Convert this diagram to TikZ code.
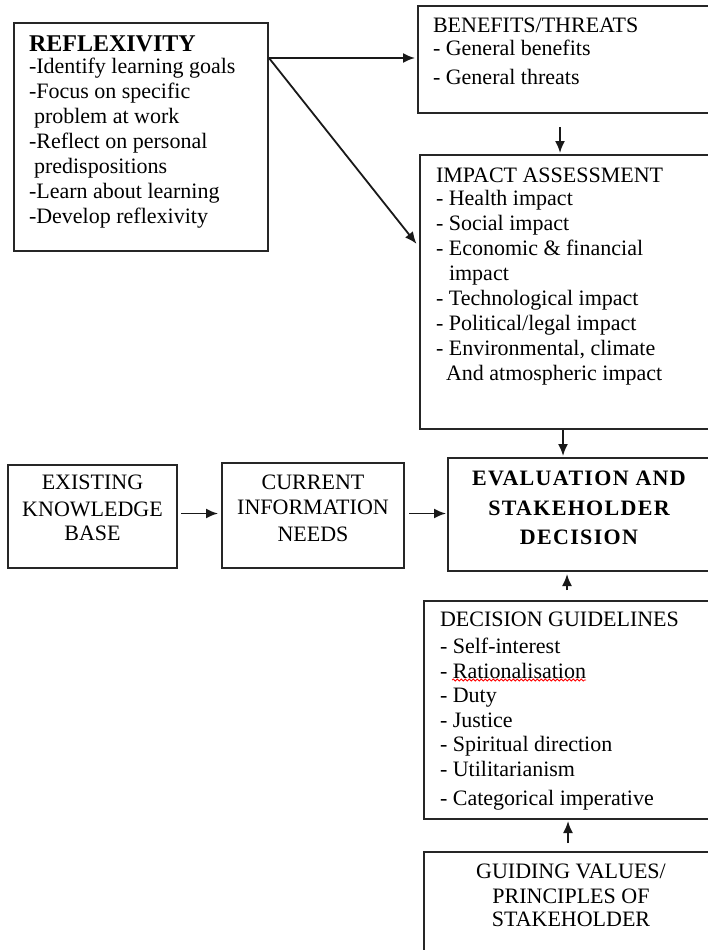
\documentclass[tikz,border=0pt]{standalone}
\usepackage{fontspec}
\setmainfont{Liberation Serif}
\newfontfamily\titfont[LetterSpace=6]{Liberation Serif}
\usetikzlibrary{arrows.meta,decorations.pathmorphing}

\begin{document}
\begin{tikzpicture}[x=1pt,y=-1pt,
        caja/.style={draw=black!85, line width=2pt, anchor=north west,
            inner xsep=15pt, inner ysep=12pt, font=\fontsize{22}{25}\selectfont},
        flecha/.style={-{Latex[length=12pt,width=10pt]}, line width=1.8pt, draw=black!90}]
        \useasboundingbox (0,0) rectangle (708,950);
        \clip (0,0) rectangle (708,950);

        % Cajas de arriba
        \node[caja, inner ysep=13pt] (reflex) at (13,22) {\parbox[t][202pt][t]{224pt}{\raggedright
            {\fontsize{24}{24}\selectfont\bfseries REFLEXIVITY}\\[-3pt]
            -Identify learning goals\\
            -Focus on specific\\
            \hspace*{5pt}problem at work\\
            -Reflect on personal\\
            \hspace*{5pt}predispositions\\
            -Learn about learning\\
            -Develop reflexivity}};
        \node[caja] (benefits) at (417,5) {\parbox[t][83pt][t]{270pt}{\raggedright
            BENEFITS/THREATS\\[-2pt]
            - General benefits\\[4pt]
            - General threats}};
        \node[caja, inner xsep=16pt, inner ysep=13pt] (impact) at (419,154) {\parbox[t][248pt][t]{268pt}{\raggedright
            IMPACT ASSESSMENT\\[-2pt]
            - Health impact\\
            - Social impact\\
            - Economic \& financial\\
            \hspace*{13pt}impact\\
            - Technological impact\\
            - Political/legal impact\\
            - Environmental, climate\\
            \hspace*{10pt}And atmospheric impact}};

        % Fila del medio
        \node[caja, inner xsep=8pt, inner ysep=10pt] (existing) at (7,464) {\parbox[t][83pt][t]{153pt}{\centering
            EXISTING\\[1.5pt] KNOWLEDGE\\[-1pt] BASE}};
        \node[caja, inner xsep=8pt, inner ysep=12pt] (current) at (221,462) {\parbox[t][81pt][t]{166pt}{\centering
            CURRENT\\ INFORMATION\\[2pt] NEEDS}};
        \node[caja, inner xsep=10pt, inner ysep=13pt] (evaluation) at (447,457) {\parbox[t][87pt][t]{242pt}{\centering
            \fontsize{22}{29.5}\titfont\bfseries EVALUATION AND\\ STAKEHOLDER\\ DECISION}};

        % Cajas de abajo
        \node[caja, inner xsep=16pt, inner ysep=11pt, font=\fontsize{22}{24.5}\selectfont] (guidelines) at (423,600) {\parbox[t][196pt][t]{262pt}{\raggedright
            DECISION GUIDELINES\\[2.5pt]
            - Self-interest\\
            - Rationalisation\\
            - Duty\\
            - Justice\\
            - Spiritual direction\\
            - Utilitarianism\\[4.5pt]
            - Categorical imperative}};
        \node[caja] (values) at (423,851) {\parbox[t][96pt][t]{264pt}{\centering
            GUIDING VALUES/\\ PRINCIPLES OF\\[-2pt] STAKEHOLDER}};

        % Subrayado rojo
        \draw[red, line width=0.8pt, decorate, decoration={snake, amplitude=1pt, segment length=4pt}]
            (452,680) -- (586,680);

        % Flechas
        \coordinate (salida) at ([yshift=-36pt]reflex.north east);
        \draw[flecha, shorten >=2pt] (salida) -- (salida -| benefits.west);
        \draw[flecha, shorten >=4pt] (salida) -- ([yshift=-93pt]impact.north west);
        \draw[flecha, shorten >=1pt] ([xshift=143pt,yshift=-13pt]benefits.south west) -- ([xshift=141pt]impact.north west);
        \draw[flecha, shorten >=1pt] ([xshift=144pt]impact.south west) -- ([xshift=116pt]evaluation.north west);
        \draw[flecha, shorten <=3pt, shorten >=3pt] ([yshift=3pt]existing.east) -- ([yshift=3pt]existing.east -| current.west);
        \draw[flecha, shorten <=4pt, shorten >=1pt] ([yshift=2pt]current.east) -- ([yshift=2pt]current.east -| evaluation.west);
        \draw[flecha, shorten >=2pt] ([xshift=144pt,yshift=10pt]guidelines.north west) -- ([xshift=120pt]evaluation.south west);
        \draw[flecha, shorten >=1pt] ([xshift=145pt,yshift=8pt]values.north west) -- ([xshift=145pt]guidelines.south west);
    \end{tikzpicture}
\end{document}
